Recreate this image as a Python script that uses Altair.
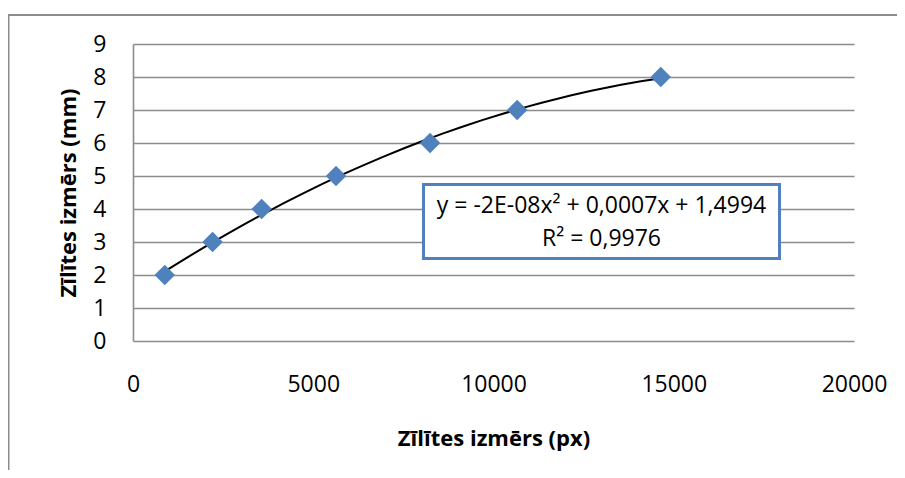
import altair as alt
import pandas as pd

# Data
x_px = [881, 2207, 3568, 5632, 8240, 10656, 14640]
y_mm = [2, 3, 4, 5, 6, 7, 8]
x_ticks = [0, 5000, 10000, 15000, 20000]
y_ticks = [0, 1, 2, 3, 4, 5, 6, 7, 8, 9]
x_title = "Zīlītes izmērs (px)"
y_title = "Zīlītes izmērs (mm)"
eq_lines = ["y = -2E-08x² + 0,0007x + 1,4994", "R² = 0,9976"]
eq_x = [12996, 12996]
eq_y = [3.879, 2.879]
box_x = [8058]
box_x2 = [17934]
box_y = [4.742]
box_y2 = [2.5]

FONT = "Open Sans"
GRID = "#8c8c8c"
BLUE = "#4F81BD"

df = pd.DataFrame({"x": x_px, "y": y_mm})
eq_df = pd.DataFrame({"x": eq_x, "y": eq_y, "t": eq_lines})
box_df = pd.DataFrame({"x": box_x, "x2": box_x2, "y": box_y, "y2": box_y2})

xscale = alt.Scale(domain=[0, 20000], nice=False, zero=False)
yscale = alt.Scale(domain=[0, 9], nice=False, zero=False)

x_axis = alt.Axis(
    values=x_ticks, format="d", grid=False, domain=False, ticks=False, tickSize=0,
    labelPadding=32, labelFont=FONT, labelFontSize=23, labelColor="black",
    labelFlush=False, labelOverlap=False,
    title=x_title, titleFont=FONT, titleFontSize=22, titleFontWeight="bold",
    titleColor="black", titleY=104, titleBaseline="alphabetic",
)
y_axis = alt.Axis(
    values=y_ticks, tickCount=10, format="d", grid=True, gridColor=GRID, gridWidth=1.6,
    domain=True, domainColor=GRID, domainWidth=1.6, ticks=False, tickSize=0,
    labelPadding=27, labelFont=FONT, labelFontSize=23, labelColor="black",
    labelFlush=False, labelOverlap=False,
    title=y_title, titleFont=FONT, titleFontSize=22, titleFontWeight="bold",
    titleColor="black", titleX=-58, titleY=148.5, titleBaseline="alphabetic",
)


def X(field):
    return alt.X(field, scale=xscale, axis=x_axis, title=x_title)


def Y(field):
    return alt.Y(field, scale=yscale, axis=y_axis, title=y_title)


border = alt.Chart(pd.DataFrame({"a": [0]})).mark_rect(
    fillOpacity=0, stroke=GRID, strokeWidth=2
).encode(
    x=alt.value(-124.5), x2=alt.value(2000), y=alt.value(-29), y2=alt.value(2000)
)

trend = alt.Chart(df).transform_regression(
    "x", "y", method="poly", order=2
).mark_line(color="black", strokeWidth=2).encode(x=X("x:Q"), y=Y("y:Q"))

box = alt.Chart(box_df).mark_rect(fill="white", stroke=BLUE, strokeWidth=3).encode(
    x=X("x:Q"), x2="x2:Q", y=Y("y:Q"), y2="y2:Q",
)

text = alt.Chart(eq_df).mark_text(
    font=FONT, fontSize=23, align="center", baseline="alphabetic", color="black"
).encode(x=X("x:Q"), y=Y("y:Q"), text="t:N")

points = alt.Chart(df).mark_point(
    shape="diamond", filled=True, size=420, color=BLUE, opacity=1
).encode(x=X("x:Q"), y=Y("y:Q"))

chart = alt.layer(border, trend, box, text, points).properties(
    width=721, height=297, autosize="none",
    padding={"left": 125, "top": 36, "right": 43, "bottom": 129},
    background="white",
).configure_view(strokeWidth=0)

chart.save("out.html", embed_options={"renderer": "svg", "actions": False})
